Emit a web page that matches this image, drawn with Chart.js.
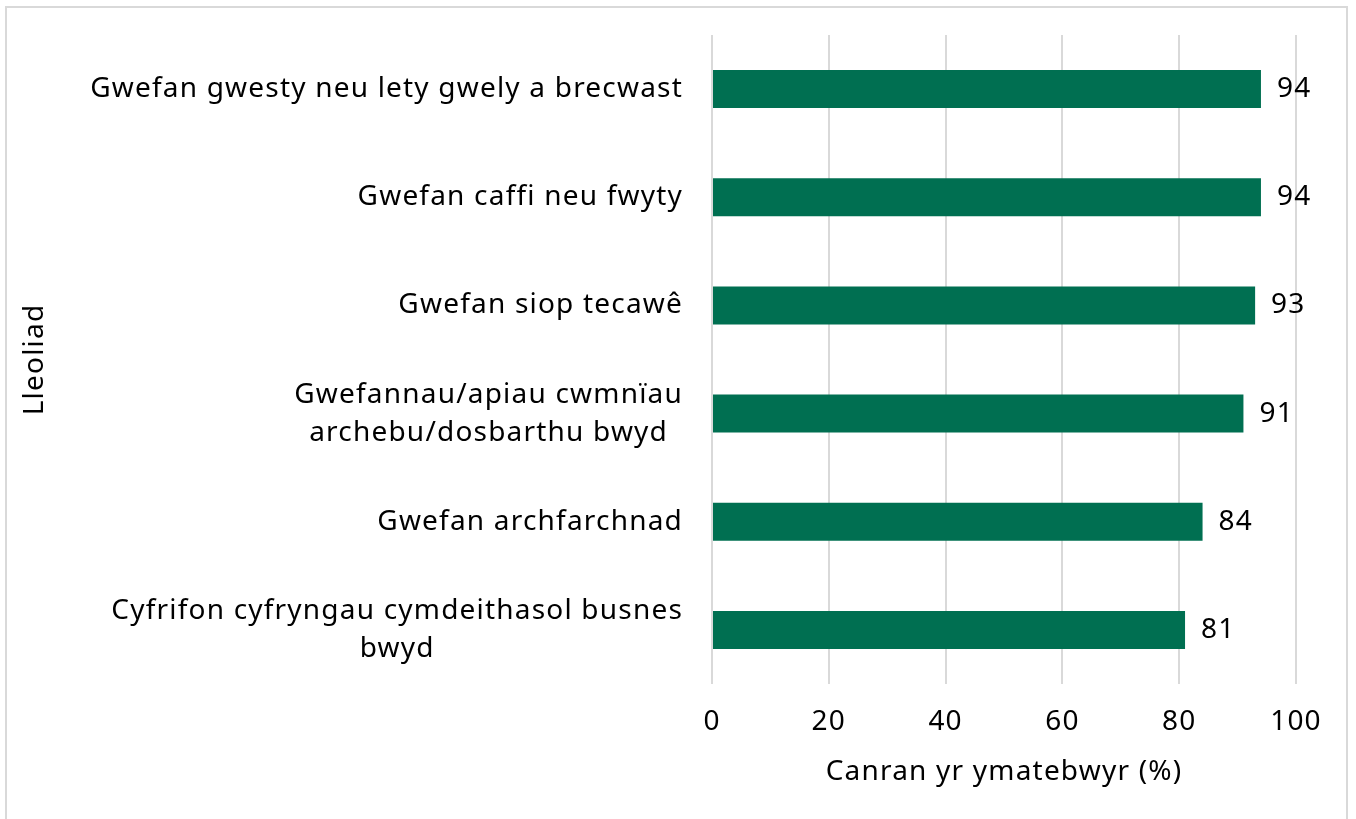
<!DOCTYPE html>
<html>
<head>
<meta charset="utf-8">
<title>Lleoliad</title>
<script src="https://cdn.jsdelivr.net/npm/chart.js@4.4.0/dist/chart.umd.min.js"></script>
<style>
  html, body { margin: 0; padding: 0; background: #fff; overflow: hidden; }
  .frame {
    position: absolute; left: 5px; top: 6px; width: 1343px; height: 830px;
    border: 2px solid #d9d9d9; box-sizing: border-box;
  }
  .wrap { position: absolute; left: 0; top: 0; width: 1356px; height: 819px; }
</style>
</head>
<body>
<div class="frame"></div>
<div class="wrap"><canvas id="chart"></canvas></div>
<script>
// categories (top to bottom)
const categories = [
  ['Gwefan gwesty neu lety gwely a brecwast'],
  ['Gwefan caffi neu fwyty'],
  ['Gwefan siop tecawê'],
  ['Gwefannau/apiau cwmnïau', 'archebu/dosbarthu bwyd'],
  ['Gwefan archfarchnad'],
  ['Cyfrifon cyfryngau cymdeithasol busnes', 'bwyd']
];
const values = [94, 94, 93, 91, 84, 81];
const xTicks = [0, 20, 40, 60, 80, 100];

const FONT = '"Noto Sans", "Open Sans", sans-serif';
const SIZE = 28;
const SPACING = '1.2px';
const barColor = '#006f51';
const gridColor = '#d9d9d9';

// the reference face is wider, so open up the letters a bit
const spacingPlugin = {
  id: 'spacing',
  beforeDraw(chart) { chart.ctx.letterSpacing = SPACING; }
};

// y labels: block right-aligned, lines centred within the block
const yLabelsPlugin = {
  id: 'yLabels',
  afterDraw(chart) {
    const ctx = chart.ctx;
    const y = chart.scales.y;
    const right = chart.chartArea.left - 29;
    const lineGap = 38;
    ctx.save();
    ctx.letterSpacing = SPACING;
    ctx.font = SIZE + 'px ' + FONT;
    ctx.fillStyle = '#000';
    ctx.textAlign = 'center';
    ctx.textBaseline = 'middle';
    categories.forEach((lines, i) => {
      const widest = Math.max(...lines.map(l => ctx.measureText(l).width));
      const cx = right - widest / 2;
      const cy = y.getPixelForTick(i);
      lines.forEach((l, j) => {
        ctx.fillText(l, cx, cy + (j - (lines.length - 1) / 2) * lineGap);
      });
    });
    ctx.restore();
  }
};

// value labels at bar end
const valueLabels = {
  id: 'valueLabels',
  afterDatasetsDraw(chart) {
    const ctx = chart.ctx;
    const meta = chart.getDatasetMeta(0);
    ctx.save();
    ctx.font = SIZE + 'px ' + FONT;
    ctx.fillStyle = '#000';
    ctx.textAlign = 'left';
    ctx.textBaseline = 'middle';
    meta.data.forEach((bar, i) => {
      ctx.fillText(String(values[i]), bar.x + 16, bar.y);
    });
    ctx.restore();
  }
};

new Chart(document.getElementById('chart'), {
  type: 'bar',
  data: {
    labels: categories.map(c => c.join(' ')),
    datasets: [{
      data: values,
      backgroundColor: barColor,
      barPercentage: 0.352,
      categoryPercentage: 1
    }]
  },
  options: {
    indexAxis: 'y',
    responsive: true,
    maintainAspectRatio: false,
    animation: false,
    layout: { padding: { left: 0, top: 35, right: 60, bottom: 20 } },
    plugins: { legend: { display: false }, tooltip: { enabled: false } },
    scales: {
      x: {
        min: 0,
        max: 100,
        afterBuildTicks: (scale) => { scale.ticks = xTicks.map(v => ({ value: v })); },
        afterFit: (scale) => { scale.height = 115; },
        ticks: { color: '#000', font: { family: FONT, size: SIZE }, padding: 21 },
        grid: { color: gridColor, lineWidth: 2, drawTicks: false },
        border: { display: false },
        title: {
          display: true,
          text: 'Canran yr ymatebwyr (%)',
          color: '#000',
          font: { family: FONT, size: SIZE },
          padding: { top: 0, bottom: 10 }
        }
      },
      y: {
        ticks: { display: false },
        grid: { display: false },
        border: { display: false },
        afterFit: (scale) => { scale.width = 712; },
        title: {
          display: true,
          text: 'Lleoliad',
          color: '#000',
          font: { family: FONT, size: SIZE },
          padding: { top: 18, bottom: 0 }
        }
      }
    }
  },
  plugins: [spacingPlugin, valueLabels, yLabelsPlugin]
});
</script>
</body>
</html>
